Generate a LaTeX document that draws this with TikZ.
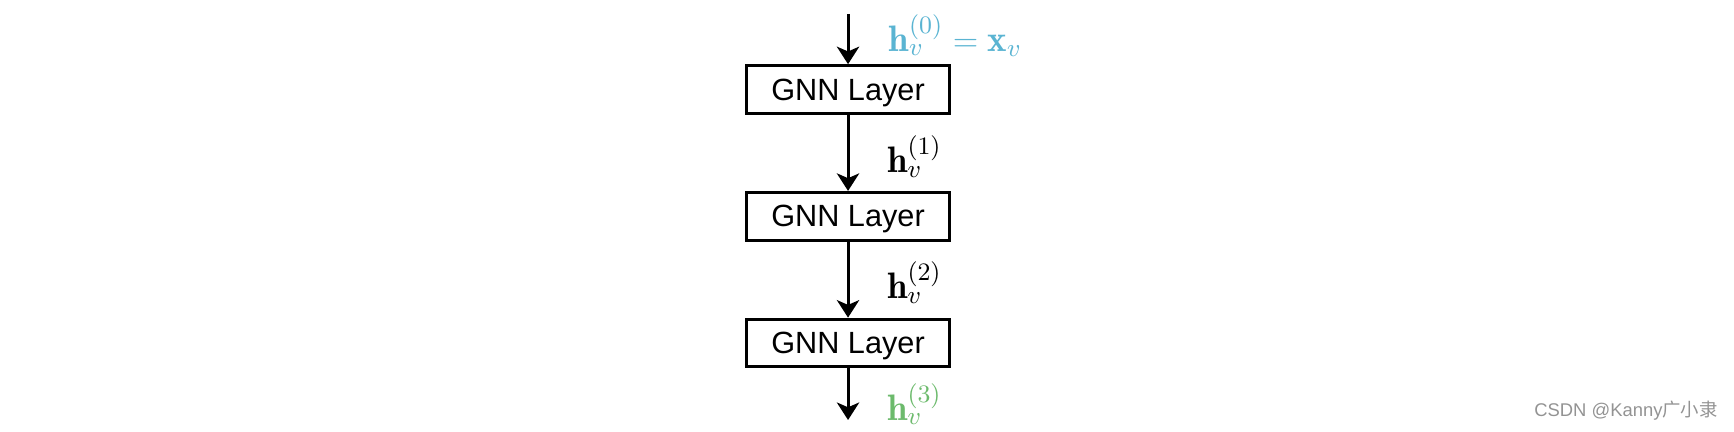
\documentclass[tikz,border=0pt]{standalone}
\usepackage{fontspec}
\usepackage{amsmath}
\newfontfamily\arialfont{Liberation Sans}
\newfontfamily\cjkfont{Noto Sans CJK SC}
\usetikzlibrary{positioning,arrows.meta}

\definecolor{inblue}{RGB}{90,180,210}
\definecolor{outgreen}{RGB}{108,186,108}

\begin{document}
\begin{tikzpicture}[
    layer/.style={rectangle, draw, line width=1.1pt, minimum width=2.55cm, minimum height=0.6cm,
                  text depth=0pt, font=\arialfont\fontsize{11}{13}\selectfont},
    arrow/.style={-{Stealth[length=2.2mm, width=2.8mm, inset=0.6mm]}, line width=1.1pt},
    hlabel/.style={anchor=base west, inner sep=0pt, font=\fontsize{13.2}{16}\selectfont}
]

% canvas
\useasboundingbox (0,0) rectangle (21.848,5.443);

% GNN layers (top to bottom)
\node[layer] (gnn1) at (10.685,4.315) {GNN Layer};
\node[layer, below=0.958cm of gnn1] (gnn2) {GNN Layer};
\node[layer, below=0.958cm of gnn2] (gnn3) {GNN Layer};

% input and output ends
\coordinate (in) at (10.685,5.267);
\coordinate (out) at (10.685,0.151);

% arrows
\draw[arrow] (in) -- (gnn1.north);
\draw[arrow] (gnn1.south) -- (gnn2.north);
\draw[arrow] (gnn2.south) -- (gnn3.north);
\draw[arrow] (gnn3.south) -- (out);

% embeddings
\node[hlabel, text=inblue] (h0) at (11.19,4.80) {$\mathbf{h}_v^{(0)} = \mathbf{x}_v$};
\node[hlabel] (h1) at (11.17,3.27) {$\mathbf{h}_v^{(1)}$};
\node[hlabel] (h2) at (11.17,1.68) {$\mathbf{h}_v^{(2)}$};
\node[hlabel, text=outgreen] (h3) at (11.17,0.15) {$\mathbf{h}_v^{(3)}$};

% watermark
\node[anchor=base east, inner sep=0pt, text=gray!85, font=\arialfont\fontsize{6.6}{8}\selectfont] (mark)
    at (21.65,0.2) {CSDN @Kanny{\cjkfont 广小隶}};

\end{tikzpicture}
\end{document}
